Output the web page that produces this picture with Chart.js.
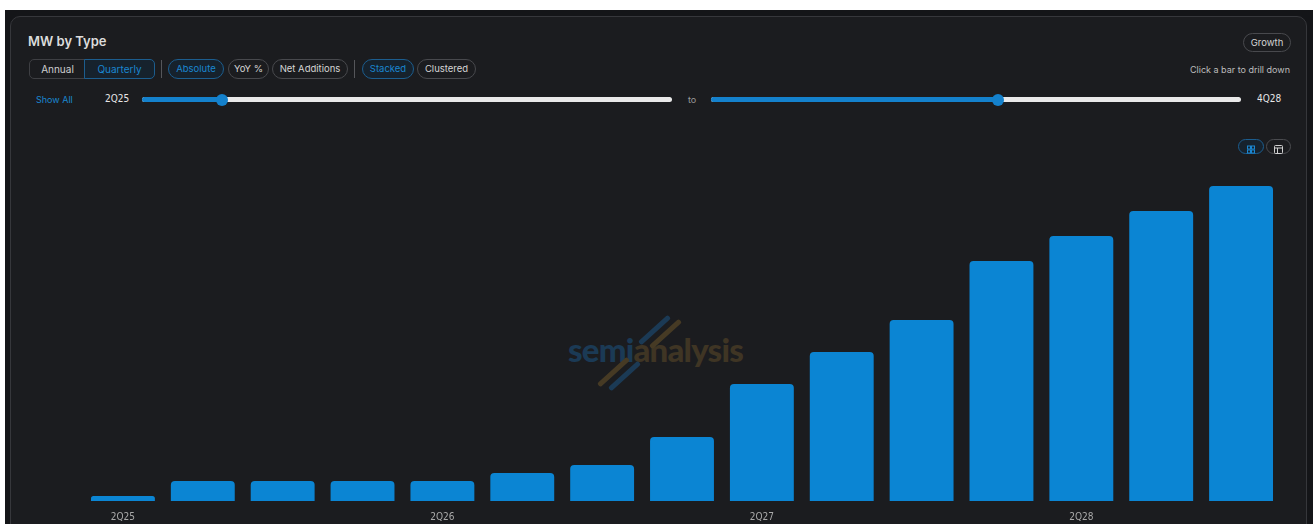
<!DOCTYPE html>
<html>
<head>
<meta charset="utf-8">
<script src="https://cdn.jsdelivr.net/npm/chart.js@4.4.1/dist/chart.umd.min.js"></script>
<style>
  html, body { margin: 0; padding: 0; background: #fff; width: 1316px; height: 524px; overflow: hidden; }
  body { font-family: "Inter", "Lato", sans-serif; }
  #page { position: absolute; left: 5px; top: 10px; width: 1308px; height: 520px; background: #141518; }
  #panel { position: absolute; left: 10px; top: 16px; width: 1297px; height: 530px; background: #1b1c1f;
           border: 1px solid #36373b; border-radius: 10px; box-sizing: border-box; }
  .abs { position: absolute; }
  .title { left: 28px; top: 33px; font-size: 13px; font-weight: 600; color: #dcdcdc; }
  .seg { left: 29px; top: 59px; width: 124px; height: 20px; border: 1px solid #3e3f43; border-radius: 5px; box-sizing: border-box; }
  .seg span { position: absolute; top: 0; height: 18px; line-height: 18px; font-size: 10px; text-align: center; }
  .pill { height: 20px; line-height: 18px; border: 1px solid #48494d; border-radius: 10px; box-sizing: border-box;
          font-size: 9.5px; color: #d4d4d4; text-align: center; top: 59px; }
  .pill.on { border-color: #1c5d8e; color: #1a86d0; background: #16222d; }
  .sep { top: 60px; width: 1px; height: 18px; background: #55565a; }
  .small { font-size: 9px; color: #bdbdbd; }
  .track { height: 5px; background: #e9e9e9; border-radius: 3px; top: 97px; }
  .fill { height: 5px; background: #1481cc; border-radius: 3px; top: 97px; }
  .thumb { width: 12px; height: 12px; border-radius: 6px; background: #1481cc; top: 93.5px; }
  .qlab { font-family: "Liberation Sans Narrow", "DejaVu Sans Condensed", sans-serif; font-size: 10px; color: #e6e6e6; top: 93px; }
  .icon { top: 139px; height: 15px; border-radius: 8px; border: 1px solid #4a4b4f; box-sizing: border-box; }
  #wm { position: absolute; left: 568px; top: 333px; font-family: "Lato", sans-serif; font-weight: 900;
        font-size: 33px; letter-spacing: -0.8px; line-height: 33px; }
  .slash { position: absolute; width: 5px; height: 40px; border-radius: 2px; transform: rotate(48deg); }
  #chartBox { position: absolute; left: 0; top: 170px; width: 1316px; height: 364px; }
</style>
</head>
<body>
<div id="page"></div>
<div id="panel"></div>

<div class="abs title">MW by Type</div>

<div class="abs seg">
  <span style="left:0;width:55px;color:#cfcfcf;">Annual</span>
  <span style="left:54px;width:69px;color:#1a86d0;background:#16222d;border:1px solid #1c5d8e;border-radius:0 5px 5px 0;top:-1px;height:18px;">Quarterly</span>
</div>
<div class="abs sep" style="left:161px;"></div>
<div class="abs pill on" style="left:168px;width:56px;">Absolute</div>
<div class="abs pill" style="left:228px;width:41px;">YoY %</div>
<div class="abs pill" style="left:272px;width:76px;">Net Additions</div>
<div class="abs sep" style="left:354px;"></div>
<div class="abs pill on" style="left:362px;width:52px;">Stacked</div>
<div class="abs pill" style="left:417px;width:59px;">Clustered</div>

<div class="abs pill" style="left:1243px;top:33px;width:48px;height:19px;line-height:17px;">Growth</div>
<div class="abs small" style="right:26px;top:64px;">Click a bar to drill down</div>

<div class="abs" style="left:36px;top:94px;font-size:9px;color:#1a86d0;">Show All</div>
<div class="abs qlab" style="left:105px;">2Q25</div>
<div class="abs track" style="left:142px;width:530px;"></div>
<div class="abs fill" style="left:142px;width:80px;"></div>
<div class="abs thumb" style="left:216px;"></div>
<div class="abs small" style="left:688px;top:94px;color:#9a9a9a;">to</div>
<div class="abs track" style="left:711px;width:530px;"></div>
<div class="abs fill" style="left:711px;width:287px;"></div>
<div class="abs thumb" style="left:992px;"></div>
<div class="abs qlab" style="left:1257px;">4Q28</div>

<div class="abs icon" style="left:1238px;width:26px;border-color:#1c5d8e;background:#16222d;">
  <svg width="24" height="13" viewBox="0 0 24 13"><g fill="none" stroke="#1a86d0" stroke-width="1">
    <rect x="8.5" y="3" width="3" height="3"/><rect x="12.5" y="3" width="3" height="3"/>
    <rect x="8.5" y="7" width="3" height="3"/><rect x="12.5" y="7" width="3" height="3"/></g></svg>
</div>
<div class="abs icon" style="left:1266px;width:25px;">
  <svg width="23" height="13" viewBox="0 0 23 13"><g fill="none" stroke="#d0d0d0" stroke-width="1">
    <rect x="7.5" y="2.5" width="8" height="8" rx="1"/><line x1="7.5" y1="5" x2="15.5" y2="5"/><line x1="10.5" y1="5" x2="10.5" y2="10.5"/></g></svg>
</div>

<!-- watermark behind the bars -->
<div id="wm"><span style="color:#1b3a55;">semi</span><span style="color:#3f3524;">analysis</span></div>
<div class="slash" style="left:652px;top:310px;background:#1b3a55;"></div>
<div class="slash" style="left:663px;top:314px;background:#463a24;"></div>
<div class="slash" style="left:611px;top:352px;background:#463a24;"></div>
<div class="slash" style="left:622px;top:356px;background:#1b3a55;"></div>

<div id="chartBox"><canvas id="bar-chart" width="1316" height="364"></canvas></div>

<script>
// quarters and total MW per quarter
var quarters = ["2Q25", "3Q25", "4Q25", "1Q26", "2Q26", "3Q26", "4Q26", "1Q27",
                "2Q27", "3Q27", "4Q27", "1Q28", "2Q28", "3Q28", "4Q28"];
var totalMW = [500, 2000, 2000, 2000, 2000, 2800, 3600, 6400,
               11700, 14900, 18100, 24000, 26500, 29000, 31500];
// only every fourth quarter gets a label
var shownTicks = ["2Q25", "2Q26", "2Q27", "2Q28"];

new Chart(document.getElementById("bar-chart"), {
    type: 'bar',
    data: {
        labels: quarters,
        datasets: [
            {
                label: "MW",
                data: totalMW,
                backgroundColor: '#0b85d3',
                borderRadius: 4,
                barPercentage: 0.8,
                categoryPercentage: 1.0
            }
        ]
    },
    options: {
        responsive: false,
        animation: false,
        layout: { padding: { left: 83, right: 35, top: 10, bottom: 1 } },
        scales: {
            y: {
                display: false,
                min: 0,
                max: 32100
            },
            x: {
                grid: { display: false, drawTicks: false },
                border: { display: false },
                ticks: {
                    autoSkip: false,
                    maxRotation: 0,
                    padding: 10,
                    color: '#a9a9a9',
                    font: { family: '"Liberation Sans Narrow", "DejaVu Sans Condensed", sans-serif', size: 10 },
                    callback: function(value, index) {
                        var q = quarters[index];
                        return shownTicks.indexOf(q) >= 0 ? q : '';
                    }
                }
            }
        },
        plugins: {
            legend: { display: false },
            tooltip: { enabled: false }
        }
    }
});
</script>
</body>
</html>
